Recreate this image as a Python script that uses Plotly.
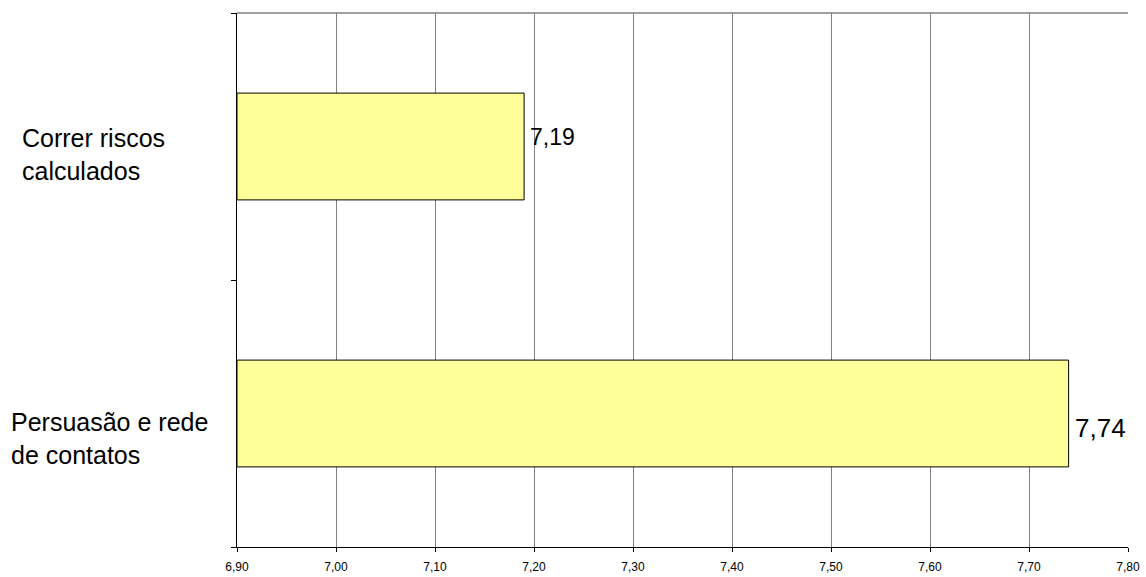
import plotly.graph_objects as go

# Data
categories = ["Persuasão e rede<br>de contatos", "Correr riscos<br>calculados"]
values = [7.74, 7.19]
value_labels = ["7,74", "7,19"]
x_ticks = [6.9, 7.0, 7.1, 7.2, 7.3, 7.4, 7.5, 7.6, 7.7, 7.8]
x_base = 6.9

y_pos = list(range(len(categories)))
FONT = "Arial, Liberation Sans, sans-serif"

fig = go.Figure()
fig.add_trace(go.Bar(
    x=[v - x_base for v in values],
    y=y_pos,
    base=x_base,
    orientation="h",
    width=0.4,
    marker=dict(color="#FFFF99", line=dict(color="#000000", width=1)),
    hoverinfo="skip",
))

# Value labels beside the bar ends
label_shift = [-14, 10]
label_size = [26, 23]
for yi, v, lab, sh, fs in zip(y_pos, values, value_labels, label_shift, label_size):
    fig.add_annotation(
        x=v, y=yi, text=lab, showarrow=False, xanchor="left", xshift=4, yshift=sh,
        font=dict(family=FONT, size=fs, color="#000000"),
    )

# Category labels, left aligned in the left margin
cat_px = [9, 20]
cat_shift = [-25, -8]
plot_left, plot_right = 237, 1128
for yi, cat, cx, sh in zip(y_pos, categories, cat_px, cat_shift):
    fig.add_annotation(
        x=(cx - plot_left) / (plot_right - plot_left), xref="paper", y=yi,
        text=cat, showarrow=False, xanchor="left", align="left", yshift=sh,
        font=dict(family=FONT, size=25, color="#000000"),
    )

fig.update_layout(
    width=1146, height=577,
    margin=dict(l=plot_left, r=1146 - plot_right, t=13, b=30),
    paper_bgcolor="#FFFFFF", plot_bgcolor="#FFFFFF",
    separators=",.",
    showlegend=False,
    xaxis=dict(
        range=[6.9, 7.8], tickvals=x_ticks, tickformat=".2f",
        showgrid=True, gridcolor="#808080", gridwidth=1,
        showline=True, linecolor="#000000", linewidth=1,
        ticks="outside", ticklen=4, tickcolor="#000000",
        ticklabelstandoff=5, automargin=False,
        tickfont=dict(family=FONT, size=12, color="#000000"),
        zeroline=False, fixedrange=True,
    ),
    yaxis=dict(
        range=[-0.5, 1.5], tickvals=[-0.5, 0.5, 1.5], showticklabels=False,
        showgrid=False, zeroline=False, automargin=False,
        showline=True, linecolor="#000000", linewidth=1,
        ticks="outside", ticklen=5, tickcolor="#000000", fixedrange=True,
    ),
    shapes=[
        dict(type="line", xref="paper", yref="paper", x0=0, x1=1, y0=1, y1=1,
             line=dict(color="#808080", width=1.5)),
    ],
)

fig.write_html("out.html")
